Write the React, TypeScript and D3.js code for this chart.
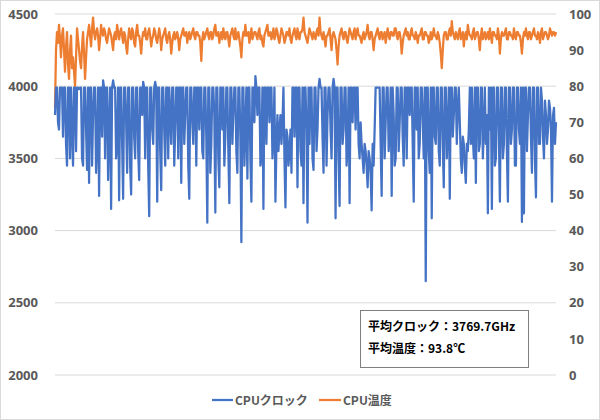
import React from "react";
import * as d3 from "d3";

const clock: number[] = [
  3800,3990, 3990,3750, 3700,3990, 3990,3990, 3650,3990, 3990,3600, 3450,3990, 3990,3500, 3990,3700, 3450,3990,
  3990,3550, 3990,3990, 3980,3990, 3990,3500, 3450,3990, 3990,3700, 3420,3990, 3330,3990, 3990,3450, 3800,3990,
  3990,3400, 3600,3990, 3240,3990, 3990,3650, 4040,3990, 3500,3990, 3990,3350, 3700,3990, 3150,3990, 4040,3990,
  3990,3500, 3600,3990, 3210,3990, 3990,3600, 3220,3990, 3990,3750, 3400,3990, 3990,3450, 3250,3990, 3990,3650,
  3500,3990, 3990,3550, 3350,3990, 3990,3800, 4030,3990, 3500,3990, 3990,3450, 3100,3990, 3990,3700, 3600,3990,
  4030,3990, 3200,3990, 3990,3550, 3280,3990, 3990,3700, 3450,3990, 3990,3500, 3990,3800, 3600,3990, 3990,3450,
  3700,3990, 3990,3500, 3990,3990, 3330,3990, 3990,3600, 3800,3990, 3990,3450, 3220,3990, 3990,3750, 3600,3990,
  3990,3450, 3990,3990, 3700,3990, 3990,3550, 3500,3990, 3990,3650, 3055,3990, 3990,3400, 3600,3990, 3990,3800,
  3125,3990, 3990,3500, 3300,3990, 3990,3700, 3990,3450, 3650,3990, 3990,3550, 3190,3990, 3990,3600, 3800,3990,
  3990,3550, 3400,3990, 3990,3650, 2920,3990, 3990,3450, 3700,3990, 3360,3990, 3990,3500, 3200,3990, 3990,3750,
  4070,3990, 3800,3990, 3990,3450, 3500,3990, 3150,3990, 3990,3600, 3990,3990, 3750,3990, 3990,3500, 3650,3990,
  3200,3600, 3800,3550, 3700,3800, 3600,3750, 3990,3500, 3160,3700, 3650,3450, 3550,3700, 3400,3990, 3990,3650,
  3990,3990, 3300,3990, 3990,3550, 3450,3990, 3190,3990, 3990,3700, 3055,3990, 3600,3990, 3990,3500, 3420,3990,
  3990,3550, 3700,3990, 4050,3990, 3990,3650, 3400,3990, 3990,3450, 3800,3990, 3990,3700, 3500,3990, 4050,3990,
  3085,3990, 3990,3500, 3170,3990, 3990,3600, 3700,3990, 3990,3450, 3600,3990, 3190,3990, 3990,3750, 3990,3990,
  3700,3990, 3990,3600, 3500,3750, 3600,3500, 3400,3600, 3550,3450, 3300,3550, 3500,3400, 3140,3600, 3450,3700,
  3990,3990, 3990,3990, 3990,3600, 3240,3990, 3990,3500, 3750,3990, 3990,3550, 3700,3990, 3240,3990, 3800,3450,
  3500,3990, 3990,3550, 3750,3990, 3990,3650, 3450,3990, 3990,3500, 3990,3990, 3800,3990, 3990,3600, 3200,3990,
  3990,3700, 3990,3500, 3600,3990, 3990,3750, 3500,3990, 2650,3990, 3990,3550, 3400,3990, 3085,3990, 3990,3650,
  3600,3990, 3990,3550, 3450,3990, 3990,3600, 3300,3990, 3990,3500, 3700,3990, 3220,3990, 3990,3650, 3800,3990,
  3990,3600, 3850,3990, 3750,3500, 3400,3650, 3600,3450, 3330,3600, 3550,3700, 3990,3600, 3990,3650, 3500,3990,
  3330,3990, 3990,3550, 3600,3990, 3990,3500, 3700,3990, 3600,3800, 3120,3990, 3700,3990, 3150,3990, 3990,3450,
  3500,3990, 3990,3650, 3200,3990, 3990,3500, 3600,3990, 3990,3550, 3200,3990, 3990,3600, 3700,3990, 3990,3450,
  3450,3990, 3990,3700, 3600,3990, 3060,3990, 3120,3990, 3990,3550, 3800,3990, 3990,3650, 3400,3990, 3990,3500,
  3230,3990, 3990,3600, 3600,3990, 3900,3650, 3500,3900, 3800,3600, 3700,3900, 3850,3700, 3200,3800, 3850,3600,
  3750,
];

const temp: number[] = [
  74,90, 95,92, 97,93, 88,94, 96,90, 84,91, 95,86, 82,90, 94,85, 88,84,
  80,88, 96,93, 90,87, 85,91, 95,89, 82,88, 93,95, 97,94, 91,96, 99,95,
  93,95, 96,94, 90,93, 97,95, 94,96, 95,93, 92,94, 96,95, 94,92, 90,94,
  95,93, 97,95, 93,95, 96,94, 92,95, 94,91, 89,93, 96,94, 93,96, 95,92,
  91,95, 97,94, 94,92, 89,93, 95,94, 96,93, 93,95, 96,94, 91,93, 94,96,
  95,93, 92,94, 96,94, 90,93, 94,95, 96,93, 92,94, 95,93, 89,92, 94,95,
  93,94, 95,93, 90,93, 94,95, 96,94, 94,95, 92,94, 95,93, 94,95, 96,94,
  93,95, 95,94, 94,92, 87,93, 95,93, 94,95, 96,94, 93,95, 95,93, 94,96,
  97,94, 94,95, 92,94, 95,93, 96,94, 93,95, 95,93, 91,94, 95,96, 94,93,
  96,93, 94,95, 93,91, 88,93, 95,94, 97,94, 94,95, 92,94, 96,93, 94,95,
  95,94, 93,95, 96,93, 94,92, 91,94, 95,96, 97,94, 94,95, 93,94, 96,93,
  94,96, 95,93, 92,94, 96,95, 94,92, 93,95, 95,94, 96,93, 92,94, 95,96,
  94,93, 96,94, 93,95, 95,96, 99,95, 94,93, 92,94, 96,95, 94,93, 95,94,
  93,95, 96,94, 99,95, 94,93, 95,93, 91,94, 94,95, 96,93, 90,94, 95,94,
  93,90, 86,91, 94,95, 96,94, 93,95, 95,93, 92,94, 96,95, 94,93, 95,96,
  93,95, 96,94, 94,93, 92,94, 95,93, 94,95, 97,94, 93,95, 95,93, 90,93,
  94,95, 96,94, 93,95, 95,93, 94,95, 92,94, 96,94, 93,95, 95,94, 94,96,
  96,94, 93,95, 95,93, 89,92, 94,95, 96,94, 95,93, 93,95, 96,94, 94,93,
  95,94, 92,94, 94,95, 96,93, 93,95, 95,94, 94,92, 93,95, 93,94, 96,94,
  94,93, 95,94, 92,89, 85,90, 94,95, 95,93, 93,95, 96,94, 98,95, 94,93,
  95,94, 93,95, 96,93, 94,95, 91,94, 95,93, 97,95, 94,94, 93,95, 96,93,
  94,95, 95,93, 90,94, 96,93, 94,95, 93,94, 95,93, 96,94, 92,95, 95,94,
  94,93, 96,94, 89,93, 95,94, 94,95, 96,93, 93,95, 95,94, 94,93, 96,94,
  93,95, 95,94, 94,92, 89,93, 95,94, 96,94, 93,95, 95,93, 94,95, 96,94,
  94,93, 95,94, 92,95, 96,93, 94,95, 95,94, 93,94, 96,95, 94,95, 95,94,
  95,
];

const leftTicks = [2000, 2500, 3000, 3500, 4000, 4500];
const rightTicks = [0, 10, 20, 30, 40, 50, 60, 70, 80, 90, 100];
const seriesNames = ["CPUクロック", "CPU温度"];
const noteLines = ["平均クロック：3769.7GHz", "平均温度：93.8℃"];

export default function App() {
  const W = 600, H = 420;
  const x0 = 55, x1 = 556, yTop = 14, yBot = 375;
  const x = d3.scaleLinear().domain([0, clock.length - 1]).range([x0, x1]);
  const yL = d3.scaleLinear().domain([2000, 4500]).range([yBot, yTop]);
  const yR = d3.scaleLinear().domain([0, 100]).range([yBot, yTop]);
  const lineC = d3.line<number>().x((_, i) => x(i)).y((d) => yL(d));
  const lineT = d3.line<number>().x((_, i) => x(i)).y((d) => yR(d));
  const font = "'Noto Sans', 'Noto Sans CJK JP', sans-serif";
  const jfont = "'Noto Sans CJK JP', 'Noto Sans', sans-serif";
  const blue = "#4472C4", orange = "#ED7D31", gray = "#595959";

  return (
    <svg width={W} height={H} style={{ position: "absolute", left: 0, top: 0, display: "block" }}>
      <rect x={0.5} y={0.5} width={W - 1} height={H - 1} fill="#fff" stroke="#d9d9d9" />
      {leftTicks.map((t) => (
        <g key={"l" + t}>
          <line x1={x0} x2={x1} y1={yL(t)} y2={yL(t)} stroke="#d9d9d9" strokeWidth={1} />
          <text x={38} y={yL(t)} dy="0.36em" textAnchor="end" fontFamily={font} fontWeight={700} fontSize={13} fill={gray}>{t}</text>
        </g>
      ))}
      {rightTicks.map((t) => (
        <text key={"r" + t} x={569} y={yR(t)} dy="0.36em" textAnchor="start" fontFamily={font} fontWeight={700} fontSize={13} fill={gray}>{t}</text>
      ))}
      <path d={lineT(temp) || ""} fill="none" stroke={orange} strokeWidth={2.25} strokeLinejoin="round" />
      <path d={lineC(clock) || ""} fill="none" stroke={blue} strokeWidth={2.25} strokeLinejoin="round" />
      <g>
        <line x1={212} x2={233} y1={400} y2={400} stroke={blue} strokeWidth={2.25} />
        <text x={235} y={404.5} fontFamily={jfont} fontWeight={700} fontSize={12} fill={gray}>{seriesNames[0]}</text>
        <line x1={319} x2={341} y1={400} y2={400} stroke={orange} strokeWidth={2.25} />
        <text x={343} y={404.5} fontFamily={jfont} fontWeight={700} fontSize={12} fill={gray}>{seriesNames[1]}</text>
      </g>
      <rect x={360.5} y={310.5} width={168} height={57} fill="#fff" stroke="#7f7f7f" strokeWidth={1} />
      <text x={368} y={331} fontFamily={jfont} fontWeight={700} fontSize={12} fill="#000">{noteLines[0]}</text>
      <text x={368} y={353} fontFamily={jfont} fontWeight={700} fontSize={12} fill="#000">{noteLines[1]}</text>
    </svg>
  );
}
